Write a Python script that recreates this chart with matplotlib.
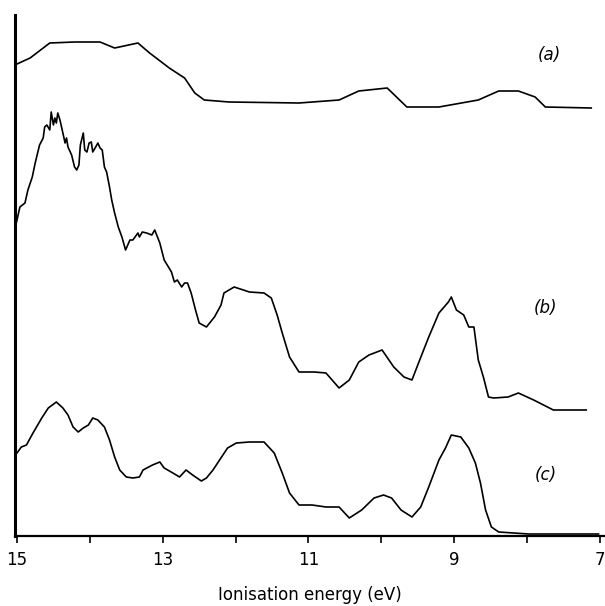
import numpy as np
import matplotlib
matplotlib.use("Agg")
import matplotlib.pyplot as plt

# Ionisation energy (eV) and intensity (arbitrary units)
energy_a = [15.03, 14.82, 14.55, 14.21, 13.86, 13.66, 13.34, 13.18, 12.91, 12.70,
            12.56, 12.43, 12.09, 11.13, 10.58, 10.31, 9.92, 9.65, 9.21, 8.67,
            8.39, 8.12, 7.89, 7.75, 7.12]
signal_a = [471, 478, 493, 494, 494, 488, 493, 483, 468, 458,
            443, 436, 434, 433, 436, 445, 448, 429, 429, 436,
            445, 445, 439, 429, 428]

energy_b = [15.03, 14.96, 14.89, 14.85, 14.79, 14.75, 14.69, 14.64, 14.62, 14.59,
            14.55, 14.53, 14.50, 14.48, 14.46, 14.44, 14.41, 14.37, 14.34, 14.32,
            14.30, 14.25, 14.21, 14.18, 14.15, 14.13, 14.09, 14.07, 14.04, 14.01,
            13.98, 13.96, 13.92, 13.89, 13.86, 13.83, 13.80, 13.77, 13.73, 13.70,
            13.66, 13.61, 13.56, 13.51, 13.45,
            13.41, 13.34, 13.32, 13.28, 13.22, 13.15, 13.11, 13.04, 12.98, 12.88,
            12.84, 12.80, 12.74, 12.70, 12.66, 12.61, 12.55, 12.50, 12.40, 12.29,
            12.20, 12.16, 12.02, 11.81, 11.61, 11.51, 11.43, 11.36, 11.26, 11.13,
            10.92, 10.76, 10.58, 10.44, 10.31, 10.17, 9.99, 9.83, 9.69, 9.58,
            9.49, 9.35, 9.21, 9.08, 9.04, 8.97, 8.87, 8.80, 8.73, 8.67,
            8.60, 8.53, 8.46, 8.26, 8.12, 7.91, 7.64, 7.19]
signal_b = [306, 329, 333, 346, 359, 373, 391, 398, 409, 411,
            406, 424, 411, 418, 413, 423, 416, 403, 393, 398,
            389, 381, 369, 366, 371, 391, 403, 386, 384, 393,
            394, 384, 389, 393, 388, 386, 369, 364, 349, 336,
            323, 309, 299, 286, 296,
            296, 303, 299, 304, 303, 301, 306, 293, 276, 264,
            254, 256, 249, 253, 253, 243, 226, 213, 209, 219,
            231, 243, 249, 244, 243, 238, 221, 203, 179, 164,
            164, 163, 148, 156, 174, 181, 186, 169, 159, 156,
            173, 199, 223, 234, 239, 226, 221, 209, 209, 176,
            159, 139, 138, 139, 143, 136, 126, 126]

energy_c = [15.00, 14.94, 14.87, 14.78, 14.66, 14.57, 14.46, 14.37, 14.30, 14.23,
            14.16, 14.09, 14.02, 13.96, 13.89, 13.80, 13.73, 13.66, 13.59, 13.50,
            13.41, 13.32, 13.27, 13.14, 13.04, 12.98, 12.86, 12.77, 12.68, 12.59,
            12.47, 12.40, 12.31, 12.22, 12.11, 11.99,
            11.81, 11.61, 11.47, 11.36, 11.26, 11.13, 10.95, 10.76, 10.58, 10.44,
            10.27, 10.10, 9.97, 9.86, 9.73, 9.58, 9.46, 9.35, 9.21, 9.12,
            9.04, 8.91, 8.80, 8.71, 8.64, 8.57, 8.49, 8.39, 7.98, 7.02]
signal_c = [83, 89, 91, 103, 118, 128, 134, 128, 121, 109,
            104, 108, 111, 118, 116, 109, 96, 79, 66, 59,
            58, 59, 66, 71, 74, 68, 63, 59, 66, 61,
            55, 58, 66, 76, 88, 93,
            94, 94, 83, 63, 43, 31, 31, 29, 29, 18,
            26, 38, 41, 38, 26, 19, 29, 49, 76, 88,
            101, 99, 88, 73, 53, 26, 9, 4, 2, 2]

labels = ["(a)", "(b)", "(c)"]
label_pos = [(7.70, 481), (7.75, 228), (7.75, 61)]

fig = plt.figure(figsize=(6.05, 6.06), dpi=100)
ax = fig.add_axes([15 / 605, 70 / 606, 589 / 605, 521 / 606])

for e, s in [(energy_a, signal_a), (energy_b, signal_b), (energy_c, signal_c)]:
    ax.plot(e, s, color="black", lw=1.2)

for lab, (x, y) in zip(labels, label_pos):
    ax.text(x, y, lab, fontsize=12, style="italic", ha="center", va="center")

ax.set_xlim(15.027, 6.945)
ax.set_ylim(0, 521)
ax.set_xticks(np.arange(7, 16, 1))
ax.set_xticklabels(["7", "", "9", "", "11", "", "13", "", "15"])
ax.set_yticks([])
ax.tick_params(axis="x", direction="out", length=5, width=1.2, labelsize=12, pad=6)
for side in ["top", "right"]:
    ax.spines[side].set_visible(False)
ax.spines["left"].set_linewidth(2.2)
ax.spines["bottom"].set_linewidth(1.6)
ax.set_xlabel("Ionisation energy (eV)", fontsize=12, labelpad=12)

fig.savefig("out.png", dpi=100)
